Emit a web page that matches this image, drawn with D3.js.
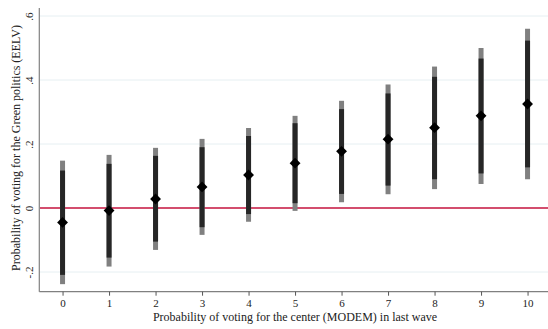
<!DOCTYPE html>
<html><head><meta charset="utf-8">
<script src="https://cdn.jsdelivr.net/npm/d3@7"></script>
<style>body{margin:0;background:#fff}svg{display:block}</style>
</head><body>
<svg id="c" width="548" height="329"></svg>
<script>
const categories = [0,1,2,3,4,5,6,7,8,9,10];
const estimate   = [-0.045,-0.008,0.028,0.066,0.103,0.140,0.177,0.215,0.251,0.288,0.325];
const innerLow   = [-0.209,-0.155,-0.105,-0.060,-0.019,0.015,0.044,0.070,0.090,0.108,0.127];
const innerHigh  = [0.117,0.138,0.163,0.190,0.225,0.265,0.309,0.358,0.410,0.467,0.523];
const outerLow   = [-0.238,-0.183,-0.131,-0.084,-0.043,-0.009,0.018,0.043,0.059,0.075,0.090];
const outerHigh  = [0.148,0.166,0.188,0.216,0.250,0.288,0.335,0.386,0.442,0.500,0.560];
const yTicks = [-0.2,0,0.2,0.4,0.6];
const yTickLabels = ["-.2","0",".2",".4",".6"];
const xTitle = "Probability of voting for the center (MODEM) in last wave";
const yTitle = "Probability of voting for the Green politics (EELV)";

const svg = d3.select("#c");
const font = "'Liberation Serif','Times New Roman',serif";
const x = d3.scaleLinear().domain([-0.5,10.5]).range([39.3,550.8]);
const y = d3.scaleLinear().domain([0,0.6]).range([208,16]);
const yBottom = 291.7, yTop = 8;

// grid
svg.append("g").selectAll("line").data(yTicks).join("line")
  .attr("x1",40).attr("x2",548).attr("y1",d=>y(d)).attr("y2",d=>y(d))
  .attr("stroke","#e6eff2").attr("stroke-width",1);

// zero line
svg.append("line").attr("x1",40).attr("x2",548).attr("y1",y(0)).attr("y2",y(0))
  .attr("stroke","#c8143f").attr("stroke-width",1.4);

// outer CI
svg.append("g").selectAll("line").data(categories).join("line")
  .attr("x1",d=>x(d)).attr("x2",d=>x(d))
  .attr("y1",(d,i)=>y(outerLow[i])).attr("y2",(d,i)=>y(outerHigh[i]))
  .attr("stroke","#808080").attr("stroke-width",5);
// inner CI
svg.append("g").selectAll("line").data(categories).join("line")
  .attr("x1",d=>x(d)).attr("x2",d=>x(d))
  .attr("y1",(d,i)=>y(innerLow[i])).attr("y2",(d,i)=>y(innerHigh[i]))
  .attr("stroke","#262626").attr("stroke-width",5);
// diamonds
svg.append("g").selectAll("path").data(categories).join("path")
  .attr("transform",(d,i)=>`translate(${x(d)},${y(estimate[i])})`)
  .attr("d",d3.symbol().type(d3.symbolDiamond2).size(75))
  .attr("fill","#000");

// y axis
const ya = svg.append("g").attr("transform","translate(39.3,0)")
  .call(d3.axisLeft(y).tickValues(yTicks).tickFormat((d,i)=>yTickLabels[i]).tickSize(0).tickPadding(0));
ya.select(".domain").attr("d",`M0,${yTop}V${yBottom}`).attr("stroke","#808080").attr("stroke-width",1.2);
ya.selectAll(".tick text").attr("font-family",font).attr("font-size",11).attr("fill","#222")
  .attr("x",0).attr("dy",0).attr("text-anchor","middle")
  .attr("transform","translate(-6,0) rotate(-90)");

// x axis
const xa = svg.append("g").attr("transform",`translate(0,${yBottom})`)
  .call(d3.axisBottom(x).tickValues(categories).tickSize(4).tickPadding(4));
xa.select(".domain").attr("d",`M39.3,0H548`).attr("stroke","#808080").attr("stroke-width",1.2);
xa.selectAll(".tick line").attr("stroke","#555");
xa.selectAll(".tick text").attr("font-family",font).attr("font-size",11).attr("fill","#222");

// titles
svg.append("text").attr("x",x(5)).attr("y",321).attr("text-anchor","middle")
  .attr("font-family",font).attr("font-size",12).attr("fill","#222").text(xTitle);
svg.append("text").attr("transform","translate(20,148) rotate(-90)").attr("text-anchor","middle")
  .attr("font-family",font).attr("font-size",12).attr("fill","#222").text(yTitle);
</script>
</body></html>
